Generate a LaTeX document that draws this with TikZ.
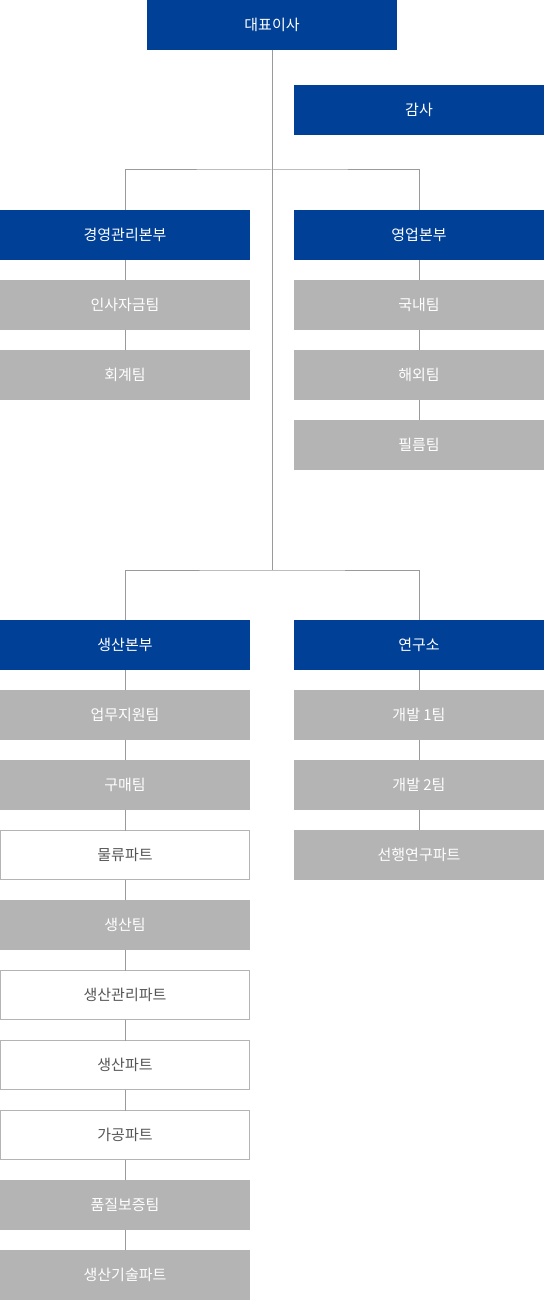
\documentclass[tikz,border=0pt]{standalone}
\usepackage{fontspec}
\newfontfamily\kr{Noto Sans CJK KR}
\usepackage{xcolor}
\usepackage{tikz}

\definecolor{orgblue}{HTML}{004097}
\definecolor{orggray}{HTML}{B4B4B4}
\definecolor{linegray}{HTML}{9A9A9A}
\definecolor{textgray}{HTML}{555555}

\tikzset{
  unit/.style={minimum width=250pt, minimum height=50pt, inner sep=0pt, outer sep=0pt,
    font=\kr\fontsize{15}{17}\selectfont},
  headbox/.style={unit, fill=orgblue, text=white},
  teambox/.style={unit, fill=orggray, text=white},
  partbox/.style={unit, minimum width=249pt, minimum height=49pt, fill=white, draw=orggray, line width=1pt, text=textgray},
  link/.style={draw=linegray, line width=1pt}
}

\begin{document}
\begin{tikzpicture}[x=1pt,y=-1pt]
\useasboundingbox (0,0) rectangle (544,1300);

% top
\node[headbox] (ceo) at (272,25) {대표이사};
\node[headbox] (audit) at (419,110) {감사};
\coordinate (j1) at (272,170);
\coordinate (j2) at (272,570);

% upper divisions
\node[headbox] (mgmt) at (125,235) {경영관리본부};
\node[teambox] (hr) at (125,305) {인사자금팀};
\node[teambox] (acct) at (125,375) {회계팀};

\node[headbox] (sales) at (419,235) {영업본부};
\node[teambox] (dom) at (419,305) {국내팀};
\node[teambox] (intl) at (419,375) {해외팀};
\node[teambox] (film) at (419,445) {필름팀};

% lower divisions
\node[headbox] (prod) at (125,645) {생산본부};
\node[teambox] (supp) at (125,715) {업무지원팀};
\node[teambox] (buy) at (125,785) {구매팀};
\node[partbox] (logi) at (125,855) {물류파트};
\node[teambox] (mfg) at (125,925) {생산팀};
\node[partbox] (pctl) at (125,995) {생산관리파트};
\node[partbox] (ppart) at (125,1065) {생산파트};
\node[partbox] (proc) at (125,1135) {가공파트};
\node[teambox] (qa) at (125,1205) {품질보증팀};
\node[teambox] (tech) at (125,1275) {생산기술파트};

\node[headbox] (lab) at (419,645) {연구소};
\node[teambox] (dev1) at (419,715) {개발 1팀};
\node[teambox] (dev2) at (419,785) {개발 2팀};
\node[teambox] (adv) at (419,855) {선행연구파트};

% trunk
\draw[link] (ceo.south) -- (j2);
\draw[link] (mgmt.north) |- (j1) -| (sales.north);
\draw[link] (prod.north) |- (j2) -| (lab.north);

% chains
\foreach \a/\b in {mgmt/hr, hr/acct, sales/dom, dom/intl, intl/film,
  prod/supp, supp/buy, buy/logi, logi/mfg, mfg/pctl, pctl/ppart, ppart/proc, proc/qa, qa/tech,
  lab/dev1, dev1/dev2, dev2/adv}
  \draw[link] (\a.south) -- (\b.north);
\end{tikzpicture}
\end{document}
